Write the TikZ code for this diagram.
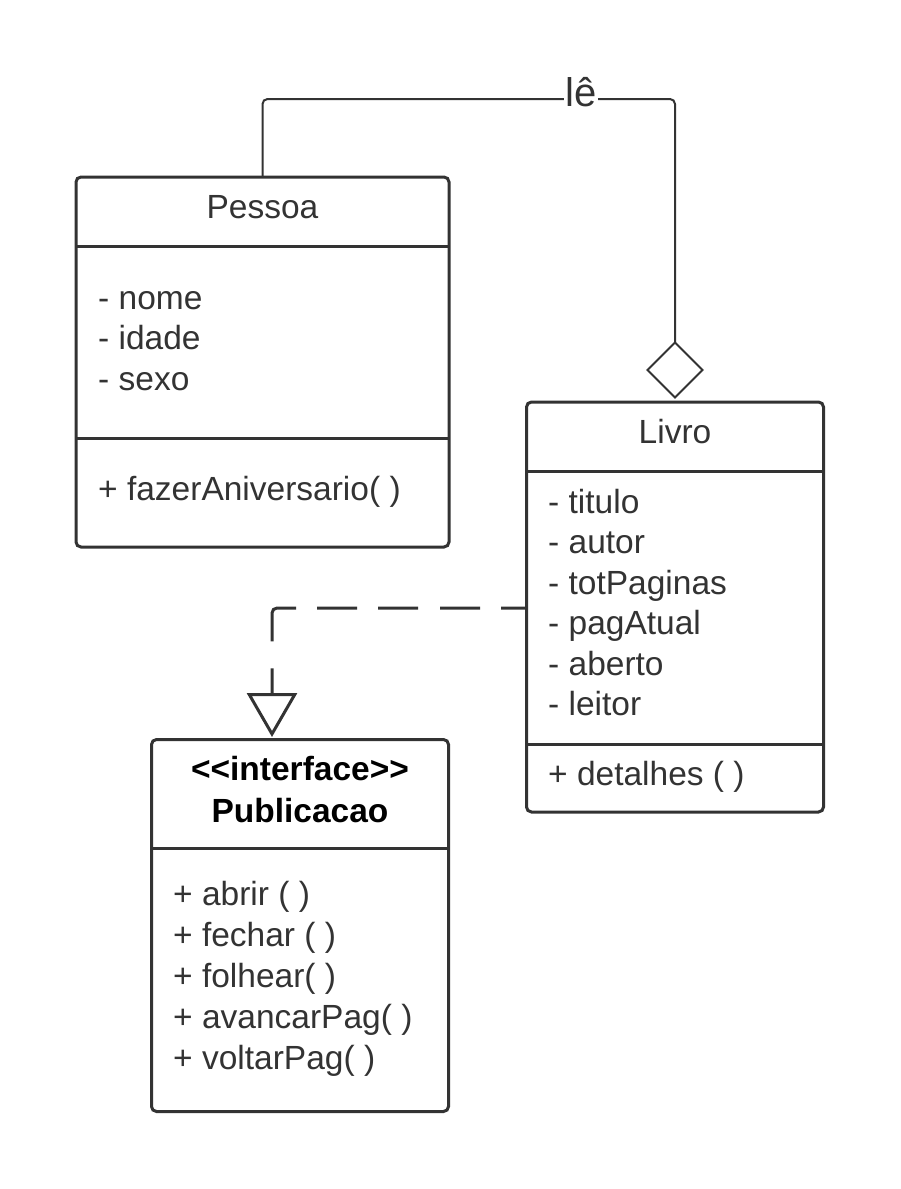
\documentclass[tikz,border=0pt]{standalone}
\usepackage{fontspec}
\setmainfont{Liberation Sans}
\usetikzlibrary{shapes.geometric,arrows.meta}
\definecolor{ink}{HTML}{333333}
\begin{document}
\begin{tikzpicture}[x=1pt,y=-1pt,
  txt/.style={font=\fontsize{33.5pt}{40pt}\selectfont, text=ink, inner sep=0pt, anchor=base west},
  ttl/.style={txt, anchor=base},
  bold/.style={ttl, font=\fontsize{33.5pt}{40pt}\selectfont\bfseries, text=black},
  classbox/.style={draw=ink, line width=3pt, rounded corners=5pt, inner sep=0pt, outer sep=0pt, fill=white},
  divider/.style={draw=ink, line width=3pt},
  assoc/.style={draw=ink, line width=2pt, rounded corners=5pt},
  realiz/.style={draw=ink, line width=3pt, rounded corners=5pt,
    dash pattern=on 25.5pt off 21pt on 40pt off 22pt on 40pt off 21pt on 40pt off 21pt on 55pt off 27pt on 200pt}
]
\useasboundingbox (0,0) rectangle (900,1189);

% boxes
\node[classbox, minimum width=373pt, minimum height=370pt] (pessoa) at (262.5,362) {};
\node[classbox, minimum width=297pt, minimum height=410pt] (livro) at (675,607) {};
\node[classbox, minimum width=297pt, minimum height=372pt] (pub) at (300,925.5) {};

% dividers
\draw[divider] (pessoa.west |- 0,246) -- (pessoa.east |- 0,246);
\draw[divider] (pessoa.west |- 0,438) -- (pessoa.east |- 0,438);
\draw[divider] (livro.west |- 0,471) -- (livro.east |- 0,471);
\draw[divider] (livro.west |- 0,744) -- (livro.east |- 0,744);
\draw[divider] (pub.west |- 0,848) -- (pub.east |- 0,848);

% Pessoa texts
\node[ttl] (pessoaT) at (262.5,218) {Pessoa};
\foreach \t [count=\i] in {{- nome},{- idade},{- sexo}}
  \node[txt] (pa\i) at (98,{309+40.5*(\i-1)}) {\t};
\node[txt] (pm1) at (98,500) {+ fazerAniversario( )};

% Livro texts
\node[ttl] (livroT) at (675,443) {Livro};
\foreach \t [count=\i] in {{- titulo},{- autor},{- totPaginas},{- pagAtual},{- aberto},{- leitor}}
  \node[txt] (la\i) at (548,{513+40.5*(\i-1)}) {\t};
\node[txt] (lm1) at (548,785) {+ detalhes ( )};

% Publicacao texts
\node[bold] (pubS) at (300,780) {<{}<interface>{}>};
\node[bold] (pubT) at (300,822) {Publicacao};
\foreach \t [count=\i] in {{+ abrir ( )},{+ fechar ( )},{+ folhear( )},{+ avancarPag( )},{+ voltarPag( )}}
  \node[txt] (um\i) at (173,{905+41*(\i-1)}) {\t};

% association Pessoa -> Livro
\node[diamond, draw=ink, line width=2pt, fill=white, minimum width=55pt, minimum height=55pt, inner sep=0pt, outer sep=0pt] (dia) at (675,370) {};
\draw[assoc] (pessoa.north) |- (dia.north |- 0,99) -- (dia.north);
\node[txt, font=\fontsize{40pt}{44pt}\selectfont, anchor=base, fill=white, inner xsep=1pt, inner ysep=0pt] (le) at (581,106) {lê};

% realization Livro -> Publicacao
\coordinate (rs) at (livro.west |- 0,608);
\coordinate (rt) at (272,737);
\draw[realiz, -{Triangle[open, width=50pt, length=44pt]}] (rs) -| (rt);
\end{tikzpicture}
\end{document}
